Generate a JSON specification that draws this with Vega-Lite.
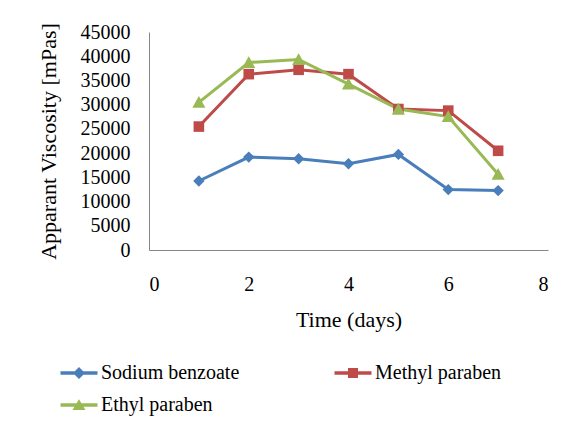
{
  "$schema": "https://vega.github.io/schema/vega-lite/v6.json",
  "width": 399,
  "height": 218,
  "autosize": {"type": "none"},
  "padding": {"left": 149, "top": 32, "right": 14, "bottom": 177},
  "background": "white",
  "config": {
    "view": {"stroke": null},
    "axis": {
      "domainColor": "#868686",
      "domainWidth": 1,
      "ticks": false,
      "grid": false,
      "labelColor": "#000000",
      "titleFont": "Liberation Serif",
      "titleFontSize": 22,
      "titleFontWeight": "normal",
      "titleColor": "#000000"
    },
    "legend": {
      "labelColor": "#000000",
      "labelLimit": 300
    }
  },
  "data": {
    "values": [
      {"series": "Sodium benzoate", "day": 1, "viscosity": 14240},
      {"series": "Sodium benzoate", "day": 2, "viscosity": 19180},
      {"series": "Sodium benzoate", "day": 3, "viscosity": 18840},
      {"series": "Sodium benzoate", "day": 4, "viscosity": 17810},
      {"series": "Sodium benzoate", "day": 5, "viscosity": 19730},
      {"series": "Sodium benzoate", "day": 6, "viscosity": 12470},
      {"series": "Sodium benzoate", "day": 7, "viscosity": 12260},
      {"series": "Methyl paraben", "day": 1, "viscosity": 25480},
      {"series": "Methyl paraben", "day": 2, "viscosity": 36300},
      {"series": "Methyl paraben", "day": 3, "viscosity": 37200},
      {"series": "Methyl paraben", "day": 4, "viscosity": 36300},
      {"series": "Methyl paraben", "day": 5, "viscosity": 29100},
      {"series": "Methyl paraben", "day": 6, "viscosity": 28770},
      {"series": "Methyl paraben", "day": 7, "viscosity": 20480},
      {"series": "Ethyl paraben", "day": 1, "viscosity": 30480},
      {"series": "Ethyl paraben", "day": 2, "viscosity": 38700},
      {"series": "Ethyl paraben", "day": 3, "viscosity": 39320},
      {"series": "Ethyl paraben", "day": 4, "viscosity": 34250},
      {"series": "Ethyl paraben", "day": 5, "viscosity": 29100},
      {"series": "Ethyl paraben", "day": 6, "viscosity": 27540},
      {"series": "Ethyl paraben", "day": 7, "viscosity": 15620}
    ]
  },
  "encoding": {
    "x": {
      "field": "day",
      "type": "quantitative",
      "scale": {"domain": [0, 8], "nice": false, "zero": false},
      "axis": {"values": [0, 2, 4, 6, 8], "title": "Time (days)", "labelFont": "Liberation Serif", "labelFontSize": 20, "labelPadding": 24, "titlePadding": 15}
    },
    "y": {
      "field": "viscosity",
      "type": "quantitative",
      "scale": {"domain": [0, 45000], "nice": false},
      "axis": {"values": [0, 5000, 10000, 15000, 20000, 25000, 30000, 35000, 40000, 45000], "format": "d", "title": "Apparant Viscosity [mPas]", "labelFont": "Liberation Serif", "labelFontSize": 20, "labelPadding": 19, "titlePadding": 20}
    }
  },
  "layer": [
    {
      "mark": {"type": "line", "strokeWidth": 3},
      "encoding": {
        "color": {
          "field": "series",
          "type": "nominal",
          "scale": {"domain": ["Sodium benzoate", "Methyl paraben", "Ethyl paraben"], "range": ["#4A7EBB", "#BE4B48", "#98B954"]},
          "legend": null
        }
      }
    },
    {
      "mark": {"type": "point", "filled": true, "opacity": 1, "strokeWidth": 0, "size": 130},
      "encoding": {
        "color": {
          "field": "series",
          "type": "nominal",
          "scale": {"domain": ["Sodium benzoate", "Methyl paraben", "Ethyl paraben"], "range": ["#4A7EBB", "#BE4B48", "#98B954"]},
          "legend": null
        },
        "shape": {
          "field": "series",
          "type": "nominal",
          "scale": {"domain": ["Sodium benzoate", "Methyl paraben", "Ethyl paraben"], "range": ["M0,-1L1,0L0,1L-1,0Z", "M-0.93,-0.93H0.93V0.93H-0.93Z", "M0,-1.1L1.15,0.95L-1.15,0.95Z"]},
          "legend": null
        }
      }
    },
    {
      "transform": [{"filter": "false"}],
      "mark": {"type": "point", "filled": true, "opacity": 1, "strokeWidth": 0},
      "encoding": {
        "color": {
          "field": "series",
          "type": "nominal",
          "scale": {"domain": ["Sodium benzoate", "Methyl paraben", "Ethyl paraben"], "range": ["#4A7EBB", "#BE4B48", "#98B954"]},
          "legend": {
            "title": null,
            "orient": "none",
            "direction": "horizontal",
            "legendX": -80,
            "legendY": 331,
            "columns": 2,
            "columnPadding": 94,
            "rowPadding": 12,
            "padding": 0,
            "symbolSize": 100,
            "symbolOpacity": 1,
            "labelOffset": 12,
            "symbolStrokeWidth": 0,
            "labelFont": "Liberation Serif",
            "labelFontSize": 20
          }
        },
        "shape": {
          "field": "series",
          "type": "nominal",
          "scale": {
            "domain": ["Sodium benzoate", "Methyl paraben", "Ethyl paraben"],
            "range": [
              "M-3.7,-0.35H3.7V0.35H-3.7Z M0,-1.2L1.2,0L0,1.2L-1.2,0Z",
              "M-3.7,-0.35H3.7V0.35H-3.7Z M-1,-1H1V1H-1Z",
              "M-3.7,-0.35H3.7V0.35H-3.7Z M0,-1.15L1.3,1L-1.3,1Z"
            ]
          },
          "legend": {
            "title": null,
            "orient": "none",
            "direction": "horizontal",
            "legendX": -80,
            "legendY": 331,
            "columns": 2,
            "columnPadding": 94,
            "rowPadding": 12,
            "padding": 0,
            "symbolSize": 100,
            "symbolOpacity": 1,
            "labelOffset": 12,
            "symbolStrokeWidth": 0,
            "labelFont": "Liberation Serif",
            "labelFontSize": 20
          }
        }
      }
    }
  ],
  "resolve": {
    "scale": {"shape": "independent", "color": "independent"},
    "legend": {"shape": "independent", "color": "independent"}
  }
}
